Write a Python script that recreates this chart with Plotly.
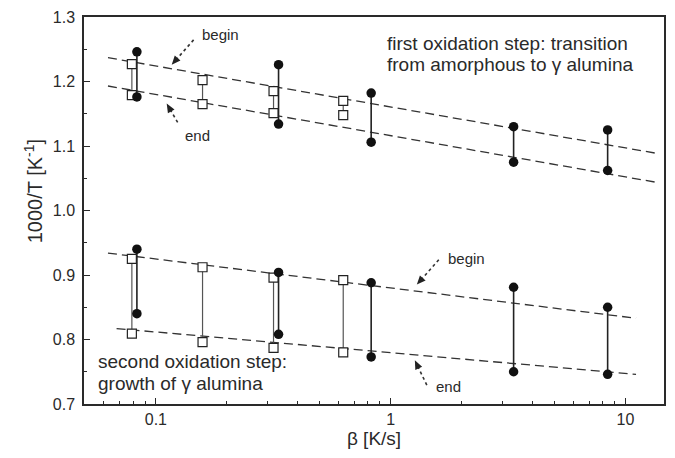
import plotly.graph_objects as go
import numpy as np

# ---- data ----
beta_sq = [0.079, 0.158, 0.317, 0.628]          # open squares
beta_ci = [0.083, 0.333, 0.826, 3.34, 8.4]      # filled circles

# first oxidation step (begin / end), 1000/T
s1_begin_sq = [1.227, 1.202, 1.185, 1.170]
s1_end_sq = [1.179, 1.165, 1.151, 1.148]
s1_begin_ci = [1.246, 1.226, 1.182, 1.130, 1.125]
s1_end_ci = [1.176, 1.134, 1.106, 1.075, 1.062]

# second oxidation step
s2_begin_sq = [0.925, 0.912, 0.896, 0.892]
s2_end_sq = [0.809, 0.796, 0.787, 0.780]
s2_begin_ci = [0.940, 0.904, 0.888, 0.881, 0.850]
s2_end_ci = [0.840, 0.808, 0.773, 0.750, 0.746]

# dashed trend lines (endpoints)
fit1_beta = [0.0625, 13.4]
fit1_begin = [1.237, 1.089]
fit1_end = [1.193, 1.044]
fit2_begin_beta = [0.0625, 11.1]
fit2_begin = [0.934, 0.833]
fit2_end_beta = [0.068, 11.1]
fit2_end = [0.817, 0.746]

x_ticks = [0.1, 1, 10]
x_ticklabels = ["0.1", "1", "10"]
y_ticks = [0.7, 0.8, 0.9, 1.0, 1.1, 1.2, 1.3]
y_ticklabels = ["0.7", "0.8", "0.9", "1.0", "1.1", "1.2", "1.3"]

W, H = 675, 458
ML, MR, MT, MB = 84, 9, 15, 54
PW, PH = W - ML - MR, H - MT - MB

def px(x):
    return (x - ML) / PW

def py(y):
    return (H - MB - y) / PH

FONT = "Liberation Sans, Arial, sans-serif"
INK = "#2a2a2a"

fig = go.Figure()

def connectors(b, top, bot, color, width):
    xs, ys = [], []
    for bb, t, e in zip(b, top, bot):
        xs += [bb, bb, None]
        ys += [t, e, None]
    fig.add_trace(go.Scatter(x=xs, y=ys, mode="lines",
                             line=dict(color=color, width=width),
                             showlegend=False, hoverinfo="skip"))

# trend lines
for bx, by in [(fit1_beta, fit1_begin), (fit1_beta, fit1_end),
               (fit2_begin_beta, fit2_begin), (fit2_end_beta, fit2_end)]:
    fig.add_trace(go.Scatter(x=bx, y=by, mode="lines",
                             line=dict(color="#333333", width=1.3, dash="9px,5px"),
                             showlegend=False, hoverinfo="skip"))

for top, bot in [(s1_begin_sq, s1_end_sq), (s2_begin_sq, s2_end_sq)]:
    connectors(beta_sq, top, bot, "#555555", 1.2)
for top, bot in [(s1_begin_ci, s1_end_ci), (s2_begin_ci, s2_end_ci)]:
    connectors(beta_ci, top, bot, "#222222", 1.6)

for top, bot in [(s1_begin_sq, s1_end_sq), (s2_begin_sq, s2_end_sq)]:
    fig.add_trace(go.Scatter(x=beta_sq + beta_sq, y=top + bot, mode="markers",
                             marker=dict(symbol="square", size=9, color="white",
                                         line=dict(color="#222222", width=1.2)),
                             showlegend=False))
for top, bot in [(s1_begin_ci, s1_end_ci), (s2_begin_ci, s2_end_ci)]:
    fig.add_trace(go.Scatter(x=beta_ci + beta_ci, y=top + bot, mode="markers",
                             marker=dict(symbol="circle", size=9.5, color="#111111",
                                         line=dict(width=0)),
                             showlegend=False))

# minor tick positions
x_minor = [m * 10.0 ** d for d in (-2, -1, 0, 1) for m in range(2, 10)]
x_minor = [v for v in x_minor if 0.05 < v < 14]

fig.update_layout(
    width=W, height=H,
    margin=dict(l=ML, r=MR, t=MT, b=MB),
    paper_bgcolor="white", plot_bgcolor="white",
    font=dict(family=FONT, size=16, color=INK),
    xaxis=dict(type="log", range=[np.log10(0.0494), np.log10(14.6)],
               tickmode="array", tickvals=x_ticks, ticktext=x_ticklabels,
               ticks="inside", ticklen=6, tickwidth=1, tickcolor=INK,
               tickfont=dict(size=16),
               minor=dict(tickmode="array", tickvals=x_minor, ticks="inside",
                          ticklen=3, tickcolor=INK, showgrid=False),
               showline=True, linecolor=INK, linewidth=1.5, mirror=True,
               showgrid=False, zeroline=False,
               title=dict(text="β [K/s]", font=dict(size=19), standoff=2)),
    yaxis=dict(range=[0.7, 1.3],
               tickmode="array", tickvals=y_ticks, ticktext=y_ticklabels,
               ticks="inside", ticklen=6, tickwidth=1, tickcolor=INK,
               tickfont=dict(size=16), ticklabelstandoff=4,
               minor=dict(dtick=0.05, ticks="inside", ticklen=3, tickcolor=INK,
                          showgrid=False),
               showline=True, linecolor=INK, linewidth=1.5, mirror=True,
               showgrid=False, zeroline=False),
)

# text annotations
def text(x, y, s, size=15, anchor="left", angle=0):
    fig.add_annotation(x=px(x), y=py(y), xref="paper", yref="paper", text=s,
                       showarrow=False, xanchor=anchor, yanchor="middle", align="left",
                       textangle=angle,
                       font=dict(size=size, color=INK, family=FONT))

text(33, 190, "1000/T [K<sup>-1</sup>]", 20, anchor="center", angle=-90)
text(200, 33, "begin")
text(183, 134, "end")
text(447, 258, "begin")
text(435, 386, "end")
text(386, 42, "first oxidation step: transition", 19)
text(386, 63, "from amorphous to γ alumina", 19)
text(96, 361, "second oxidation step:", 19)
text(96, 383, "growth of γ alumina", 19)

# dotted arrows: (tail, head) in pixels
arrows = [((194, 38), (172, 63)), ((178, 121), (167, 102)),
          ((440, 259), (418, 284)), ((428, 385), (416, 360))]
for (tx, ty), (hx, hy) in arrows:
    dx, dy = tx - hx, ty - hy
    L = (dx * dx + dy * dy) ** 0.5
    ux, uy = dx / L, dy / L
    fig.add_shape(type="line", xref="paper", yref="paper",
                  x0=px(tx), y0=py(ty), x1=px(hx + ux * 7), y1=py(hy + uy * 7),
                  line=dict(color="#333333", width=1.6, dash="dot"))
    bx, by = hx + ux * 9, hy + uy * 9
    nx, ny = -uy, ux
    pts = [(hx, hy), (bx + nx * 3.8, by + ny * 3.8), (bx - nx * 3.8, by - ny * 3.8)]
    path = "M " + " L ".join(f"{px(a):.5f},{py(b):.5f}" for a, b in pts) + " Z"
    fig.add_shape(type="path", xref="paper", yref="paper", path=path,
                  fillcolor="#222222", line=dict(width=0))

fig.write_html("out.html")
